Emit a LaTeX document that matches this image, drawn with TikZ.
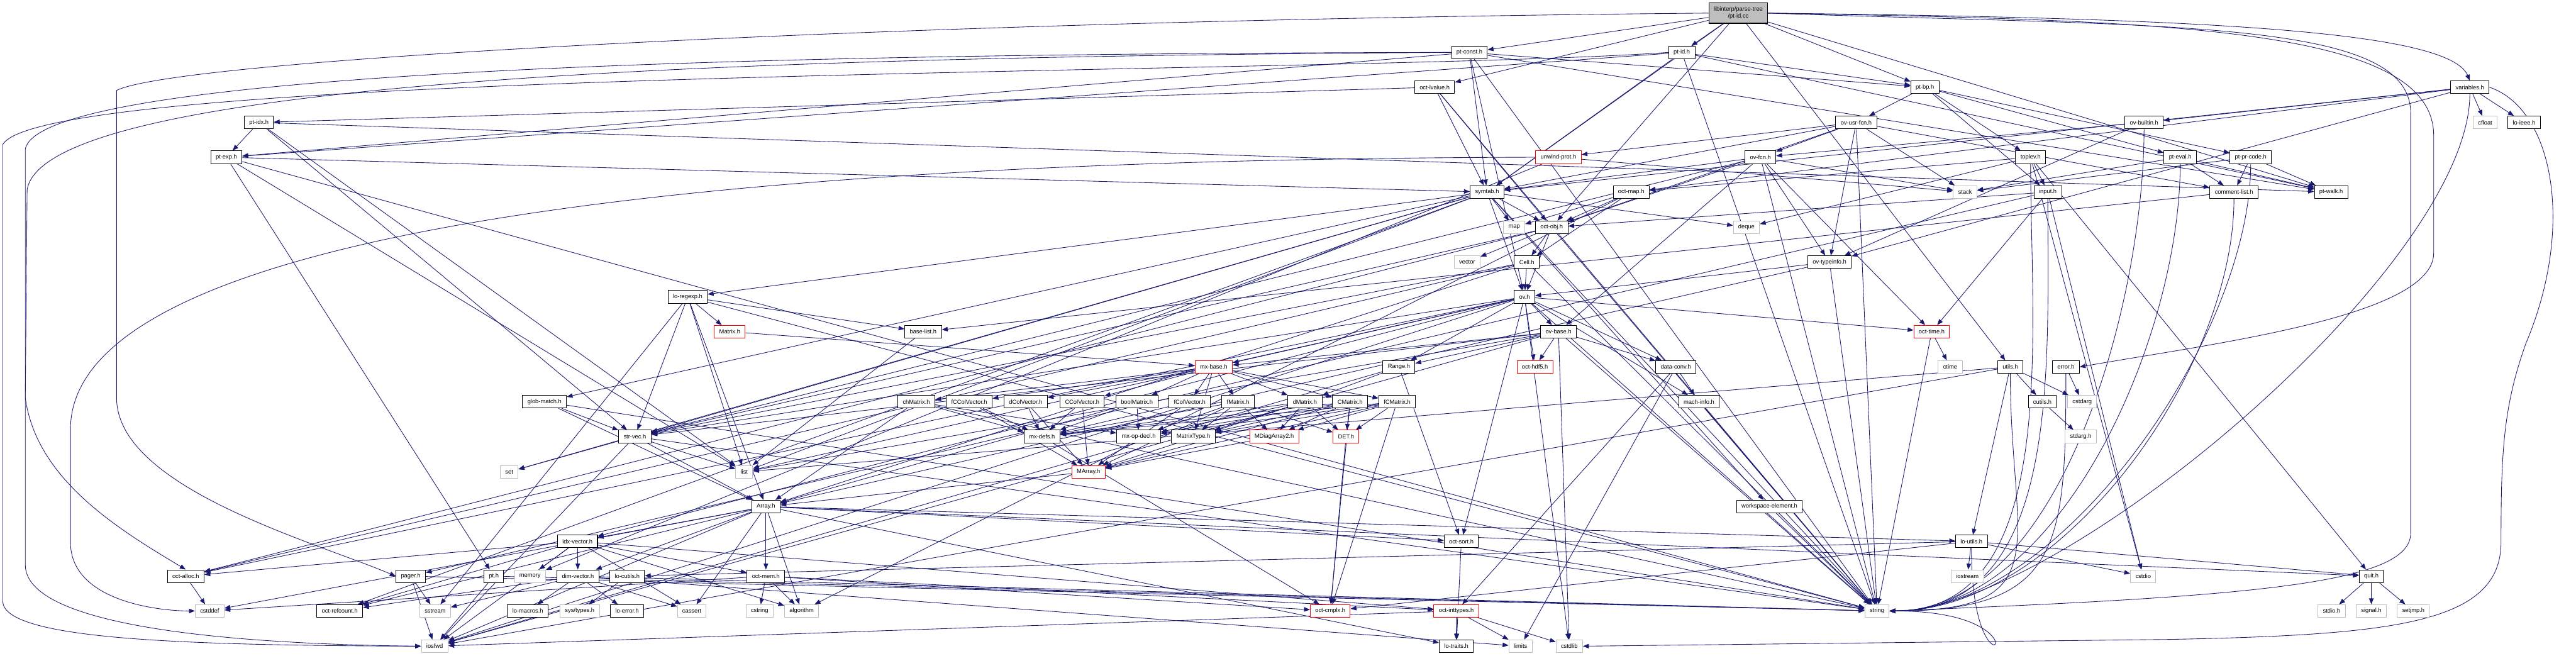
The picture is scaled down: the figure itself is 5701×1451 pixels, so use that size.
\documentclass[tikz,border=0pt]{standalone}
\usepackage{fontspec}
\setsansfont{Liberation Sans}
\usetikzlibrary{arrows.meta, backgrounds}

\definecolor{edgeblue}{RGB}{25,25,112}
\definecolor{sysgray}{RGB}{191,191,191}

\begin{document}
\begin{tikzpicture}[
    x=1pt, y=-1pt,
    font=\fontsize{13}{15}\selectfont\sffamily,
    hdr/.style={draw=black, fill=white, line width=1.4pt, inner xsep=11pt,
                inner ysep=0pt, minimum height=28pt},
    sys/.style={hdr, draw=sysgray},
    miss/.style={hdr, draw=red},
    root/.style={hdr, fill=sysgray, minimum height=45pt, align=center},
    dep/.style={draw=edgeblue, line width=1.2pt, -{Triangle[length=13pt, width=10pt]}},
]
\useasboundingbox (0,0) rectangle (5701,1451);

    %==================== top rows ====================
    \node[root] (main) at (3847,29) {libinterp/parse-tree\\/pt-id.cc};
    \node[hdr] (ptconst) at (3252,116) {pt-const.h};
    \node[hdr] (ptid) at (3722,116) {pt-id.h};
    \node[hdr] (octlvalue) at (3175,193) {oct-lvalue.h};
    \node[hdr] (ptbp) at (4260,193) {pt-bp.h};
    \node[hdr] (variables) at (5466,193) {variables.h};
    \node[hdr] (ptidx) at (573,271) {pt-idx.h};
    \node[hdr] (ovusrfcn) at (4108,271) {ov-usr-fcn.h};
    \node[hdr] (ovbuiltin) at (4745,271) {ov-builtin.h};
    \node[sys] (cfloat) at (5500,271) {cfloat};
    \node[hdr] (loieee) at (5586,271) {lo-ieee.h};
    \node[hdr] (ptexp) at (501,348) {pt-exp.h};
    \node[miss] (unwindprot) at (3449,348) {unwind-prot.h};
    \node[hdr] (ovfcn) at (3896,348) {ov-fcn.h};
    \node[hdr] (toplev) at (4494,348) {toplev.h};
    \node[hdr] (pteval) at (4825,348) {pt-eval.h};
    \node[hdr] (ptprcode) at (4981,348) {pt-pr-code.h};
    \node[hdr] (symtab) at (3291,425) {symtab.h};
    \node[hdr] (octmap) at (3610,425) {oct-map.h};
    \node[sys] (stack) at (4349,425) {stack};
    \node[hdr] (input) at (4532,425) {input.h};
    \node[hdr] (commentlist) at (4944,425) {comment-list.h};
    \node[hdr] (ptwalk) at (5159,425) {pt-walk.h};
    \node[sys] (map) at (3351,503) {map};
    \node[hdr] (octobj) at (3434,503) {oct-obj.h};
    \node[sys] (deque) at (3865,503) {deque};
    \node[sys] (vector) at (3247,580) {vector};
    \node[hdr] (cell) at (3379,580) {Cell.h};
    \node[hdr] (ovtypeinfo) at (4049,580) {ov-typeinfo.h};
    \node[hdr] (loregexp) at (1522,657) {lo-regexp.h};
    \node[hdr] (ov) at (3374,657) {ov.h};

    %==================== middle rows ====================
    \node[miss] (matrix) at (1615,734) {Matrix.h};
    \node[hdr] (baselist) at (2043,734) {base-list.h};
    \node[hdr] (ovbase) at (3449,734) {ov-base.h};
    \node[miss] (octtime) at (4275,734) {oct-time.h};
    \node[miss] (mxbase) at (2686,812) {mx-base.h};
    \node[hdr] (range) at (3096,812) {Range.h};
    \node[miss] (octhdf5) at (3397,812) {oct-hdf5.h};
    \node[hdr] (dataconv) at (3709,812) {data-conv.h};
    \node[sys] (ctime) at (4316,812) {ctime};
    \node[hdr] (utils) at (4449,812) {utils.h};
    \node[hdr] (error) at (4572,812) {error.h};
    \node[hdr] (globmatch) at (1205,889) {glob-match.h};
    \node[hdr] (chmatrix) at (2028,889) {chMatrix.h};
    \node[hdr] (fccolvector) at (2145,889) {fCColVector.h};
    \node[hdr] (dcolvector) at (2270,889) {dColVector.h};
    \node[hdr] (ccolvector) at (2395,889) {CColVector.h};
    \node[hdr] (boolmatrix) at (2516,889) {boolMatrix.h};
    \node[hdr] (fcolvector) at (2633,889) {fColVector.h};
    \node[hdr] (fmatrix) at (2740,889) {fMatrix.h};
    \node[hdr] (dmatrix) at (2888,889) {dMatrix.h};
    \node[hdr] (cmatrix) at (2988,889) {CMatrix.h};
    \node[hdr] (fcmatrix) at (3092,889) {fCMatrix.h};
    \node[hdr] (machinfo) at (3760,889) {mach-info.h};
    \node[hdr] (cutils) at (4520,889) {cutils.h};
    \node[sys] (cstdarg) at (4608,889) {cstdarg};
    \node[hdr] (strvec) at (1405,966) {str-vec.h};
    \node[hdr] (mxdefs) at (2306,966) {mx-defs.h};
    \node[hdr] (mxopdecl) at (2520,966) {mx-op-decl.h};
    \node[hdr] (matrixtype) at (2641,966) {MatrixType.h};
    \node[miss] (mdiagarray) at (2820,966) {MDiagArray2.h};
    \node[miss] (det) at (2979,966) {DET.h};
    \node[sys] (stdarg) at (4605,966) {stdarg.h};
    \node[sys] (set) at (1127,1044) {set};
    \node[sys] (list) at (1647,1044) {list};
    \node[miss] (marray) at (2409,1044) {MArray.h};
    \node[hdr] (array) at (1695,1121) {Array.h};
    \node[hdr] (wselement) at (3916,1121) {workspace-element.h};

    %==================== bottom rows ====================
    \node[hdr] (idxvector) at (1278,1198) {idx-vector.h};
    \node[hdr] (octsort) at (3234,1198) {oct-sort.h};
    \node[hdr] (loutils) at (4363,1198) {lo-utils.h};
    \node[hdr] (octalloc) at (411,1275) {oct-alloc.h};
    \node[hdr] (pager) at (909,1275) {pager.h};
    \node[hdr] (pth) at (1093,1275) {pt.h};
    \node[sys] (memory) at (1173,1275) {memory};
    \node[hdr] (dimvector) at (1279,1275) {dim-vector.h};
    \node[hdr] (locutils) at (1388,1275) {lo-cutils.h};
    \node[hdr] (octmem) at (1695,1275) {oct-mem.h};
    \node[sys] (iostream) at (4354,1275) {iostream};
    \node[sys] (cstdio) at (4743,1275) {cstdio};
    \node[hdr] (quit) at (5248,1275) {quit.h};
    \node[sys] (cstddef) at (464,1352) {cstddef};
    \node[hdr] (octrefcount) at (752,1352) {oct-refcount.h};
    \node[sys] (sstream) at (963,1352) {sstream};
    \node[hdr] (lomacros) at (1168,1352) {lo-macros.h};
    \node[sys] (systypes) at (1283,1352) {sys/types.h};
    \node[hdr] (loerror) at (1388,1352) {lo-error.h};
    \node[sys] (cassert) at (1531,1352) {cassert};
    \node[sys] (cstring) at (1681,1352) {cstring};
    \node[sys] (algorithm) at (1774,1352) {algorithm};
    \node[miss] (octcmplx) at (2944,1352) {oct-cmplx.h};
    \node[miss] (octinttypes) at (3223,1352) {oct-inttypes.h};
    \node[sys] (string) at (4154,1352) {string};
    \node[sys] (stdioh) at (5160,1352) {stdio.h};
    \node[sys] (signalh) at (5248,1352) {signal.h};
    \node[sys] (setjmp) at (5341,1352) {setjmp.h};
    \node[sys] (iosfwd) at (962,1430) {iosfwd};
    \node[hdr] (lotraits) at (3223,1430) {lo-traits.h};
    \node[sys] (limits) at (3365,1430) {limits};
    \node[sys] (cstdlib) at (3473,1430) {cstdlib};

    \begin{scope}[on background layer]
    %==================== long routed edges ====================
    \draw[dep] (ptid.west) .. controls (3000,165) and (100,150) .. (6,320)
        -- (6,1330) .. controls (6,1415) and (400,1428) .. (iosfwd.west);
    \draw[dep] (ptconst.west) .. controls (1800,118) and (90,150) .. (56,330)
        -- (56,1250) .. controls (56,1385) and (500,1425) .. (iosfwd.west);
    \draw[dep] (ptconst.west) .. controls (1800,125) and (100,165) .. (60,420)
        -- (56,880) .. controls (80,1060) and (260,1170) .. (octalloc.north);
    \draw[dep] (main.west) .. controls (2000,45) and (400,130) .. (258,200)
        -- (258,880) .. controls (258,1080) and (700,1200) .. (pager.west);
    \draw[dep] (unwindprot.west) .. controls (1500,352) and (156,520) .. (156,950)
        -- (156,1200) .. controls (156,1330) and (350,1352) .. (cstddef.west);
    \draw[dep] (variables.east) .. controls (5650,240) and (5700,500) .. (5590,760)
        .. controls (5540,900) and (5535,1000) .. (5535,1200)
        .. controls (5535,1380) and (5300,1405) .. (4800,1415) -- (cstdlib.east);
    \draw[dep] (main.east) .. controls (4800,60) and (5335,40) .. (5335,250)
        -- (5335,1180) .. controls (5335,1290) and (5000,1320) .. (string.east);
    \draw[dep] (main.east) .. controls (4800,45) and (5386,60) .. (5386,300)
        -- (5386,560) .. controls (5386,700) and (4900,760) .. (error.east);
    \draw[dep] (main.east) .. controls (4900,40) and (5420,70) .. (variables.north);

    %==================== parse tree ====================
    \foreach \t in {ptconst, octlvalue, ptid, symtab, octobj, ptbp, ptwalk, utils}
        \draw[dep] (main) -- (\t);
    \foreach \t in {ptexp, ptbp, ptwalk, symtab, ov, string}
        \draw[dep] (ptconst) -- (\t);
    \foreach \t in {ptexp, ptbp, ptwalk, symtab, string}
        \draw[dep] (ptid) -- (\t);
    \foreach \t in {ptidx, symtab, octobj, string}
        \draw[dep] (octlvalue) -- (\t);
    \foreach \t in {ptexp, ptwalk, strvec, list}
        \draw[dep] (ptidx) -- (\t);
    \foreach \t in {symtab, string, list, pth}
        \draw[dep] (ptexp) -- (\t);
    \foreach \t in {ovusrfcn, toplev, input, pteval, ptprcode}
        \draw[dep] (ptbp) -- (\t);
    \foreach \t in {commentlist, ptwalk, stack}
        \draw[dep] (pteval) -- (\t);
    \foreach \t in {commentlist, ptwalk, stack}
        \draw[dep] (ptprcode) -- (\t);
    \draw[dep] (commentlist) -- (baselist);
    \foreach \t in {iosfwd, string}
        \draw[dep] (pth) -- (\t);

    %==================== interpreter ====================
    \foreach \t in {ovfcn, ovtypeinfo, stack, string, commentlist, octobj, symtab, unwindprot}
        \draw[dep] (ovusrfcn) -- (\t);
    \foreach \t in {ovtypeinfo, octtime, stack, string, strvec, octobj, ovbase, symtab}
        \draw[dep] (ovfcn) -- (\t);
    \foreach \t in {ovfcn, ovtypeinfo}
        \draw[dep] (ovbuiltin) -- (\t);
    \foreach \t in {cfloat, loieee, ovbuiltin, symtab, octmap, ovtypeinfo}
        \draw[dep] (variables) -- (\t);
    \foreach \t in {input, deque, cstdio, quit, octmap}
        \draw[dep] (toplev) -- (\t);
    \foreach \t in {octtime, octobj, pager, cstdio}
        \draw[dep] (input) -- (\t);
    \foreach \t in {stack, memory}
        \draw[dep] (unwindprot) -- (\t);
    \foreach \t in {map, octobj, deque, ov, wselement, globmatch, loregexp, set, list, string, octrefcount, strvec}
        \draw[dep] (symtab) -- (\t);
    \foreach \t in {map, octobj, cell, algorithm}
        \draw[dep] (octmap) -- (\t);
    \foreach \t in {vector, cell, ov, octalloc, strvec, string}
        \draw[dep] (octobj) -- (\t);
    \foreach \t in {ov, array, octalloc, strvec, string}
        \draw[dep] (cell) -- (\t);
    \foreach \t in {ovbase, range, octhdf5, dataconv, machinfo, octsort, mxbase, idxvector, strvec, octalloc, list, string, iosfwd, cstdlib, octtime}
        \draw[dep] (ov) -- (\t);
    \foreach \t in {range, octhdf5, dataconv, cstdlib, mxbase, strvec, string, list, iosfwd}
        \draw[dep] (ovbase) -- (\t);
    \foreach \t in {ov, array, string}
        \draw[dep] (ovtypeinfo) -- (\t);
    \foreach \t in {ctime, string}
        \draw[dep] (octtime) -- (\t);
    \foreach \t in {cutils, cstdarg, loutils, iosfwd, list}
        \draw[dep] (utils) -- (\t);
    \draw[dep] (error) -- (cstdarg);
    \draw[dep] (cutils) -- (stdarg);
    \foreach \t in {iostream, cstdio, octcmplx, locutils, quit}
        \draw[dep] (loutils) -- (\t);
    \foreach \t in {stdioh, signalh, setjmp}
        \draw[dep] (quit) -- (\t);
    \draw[dep] (wselement) -- (string);
    \foreach \s in {commentlist, pteval, ptprcode, variables, ovbuiltin, error, utils, input, toplev, loutils}
        \draw[dep] (\s.south) .. controls +(0,380) and +(380,0) .. (string.east);

    %==================== liboctave ====================
    \foreach \t in {matrix, baselist, strvec, list, sstream, string, array}
        \draw[dep] (loregexp) -- (\t);
    \draw[dep] (matrix) -- (mxbase);
    \draw[dep] (baselist) -- (list);
    \foreach \t in {strvec, array, string}
        \draw[dep] (globmatch) -- (\t);
    \foreach \t in {set, list, array, iosfwd, string}
        \draw[dep] (strvec) -- (\t);
    \foreach \t in {chmatrix, fccolvector, dcolvector, ccolvector, boolmatrix, fcolvector, fmatrix, dmatrix, cmatrix, fcmatrix, matrixtype}
        \draw[dep] (mxbase) -- (\t);
    \foreach \t in {mxdefs, mxopdecl, array, string}
        \draw[dep] (chmatrix) -- (\t);
    \foreach \s in {fccolvector, dcolvector, ccolvector, fcolvector}
        \foreach \t in {marray, mxdefs}
            \draw[dep] (\s) -- (\t);
    \foreach \t in {mxdefs, mxopdecl, array}
        \draw[dep] (boolmatrix) -- (\t);
    \foreach \s in {fmatrix, dmatrix, cmatrix, fcmatrix}
        \foreach \t in {marray, mxdefs, mxopdecl, matrixtype, mdiagarray, det}
            \draw[dep] (\s) -- (\t);
    \foreach \s in {cmatrix, fcmatrix, det, mxdefs}
        \draw[dep] (\s) -- (octcmplx);
    \draw[dep] (mdiagarray) -- (marray);
    \draw[dep] (marray) -- (array);
    \foreach \t in {dmatrix, octsort, iosfwd}
        \draw[dep] (range) -- (\t);
    \foreach \t in {machinfo, octinttypes, limits}
        \draw[dep] (dataconv) -- (\t);
    \draw[dep] (machinfo) -- (string);
    \draw[dep] (octsort) -- (lotraits);
    \foreach \t in {lotraits, limits, cstdlib, iosfwd}
        \draw[dep] (octinttypes) -- (\t);
    \foreach \t in {idxvector, dimvector, octmem, algorithm, cassert, cstddef, iosfwd, octrefcount, lotraits, octsort, loutils, quit}
        \draw[dep] (array) -- (\t);
    \foreach \t in {memory, dimvector, octmem, cassert, algorithm, octalloc, iosfwd, octinttypes, octrefcount}
        \draw[dep] (idxvector) -- (\t);
    \foreach \t in {lomacros, loerror, cassert, sstream, octrefcount, limits, string}
        \draw[dep] (dimvector) -- (\t);
    \draw[dep] (locutils) -- (systypes);
    \foreach \t in {cstring, algorithm, cstddef, octcmplx, octinttypes}
        \draw[dep] (octmem) -- (\t);
    \draw[dep] (octalloc) -- (cstddef);
    \foreach \t in {sstream, iosfwd, string}
        \draw[dep] (pager) -- (\t);
    \end{scope}

\end{tikzpicture}
\end{document}
